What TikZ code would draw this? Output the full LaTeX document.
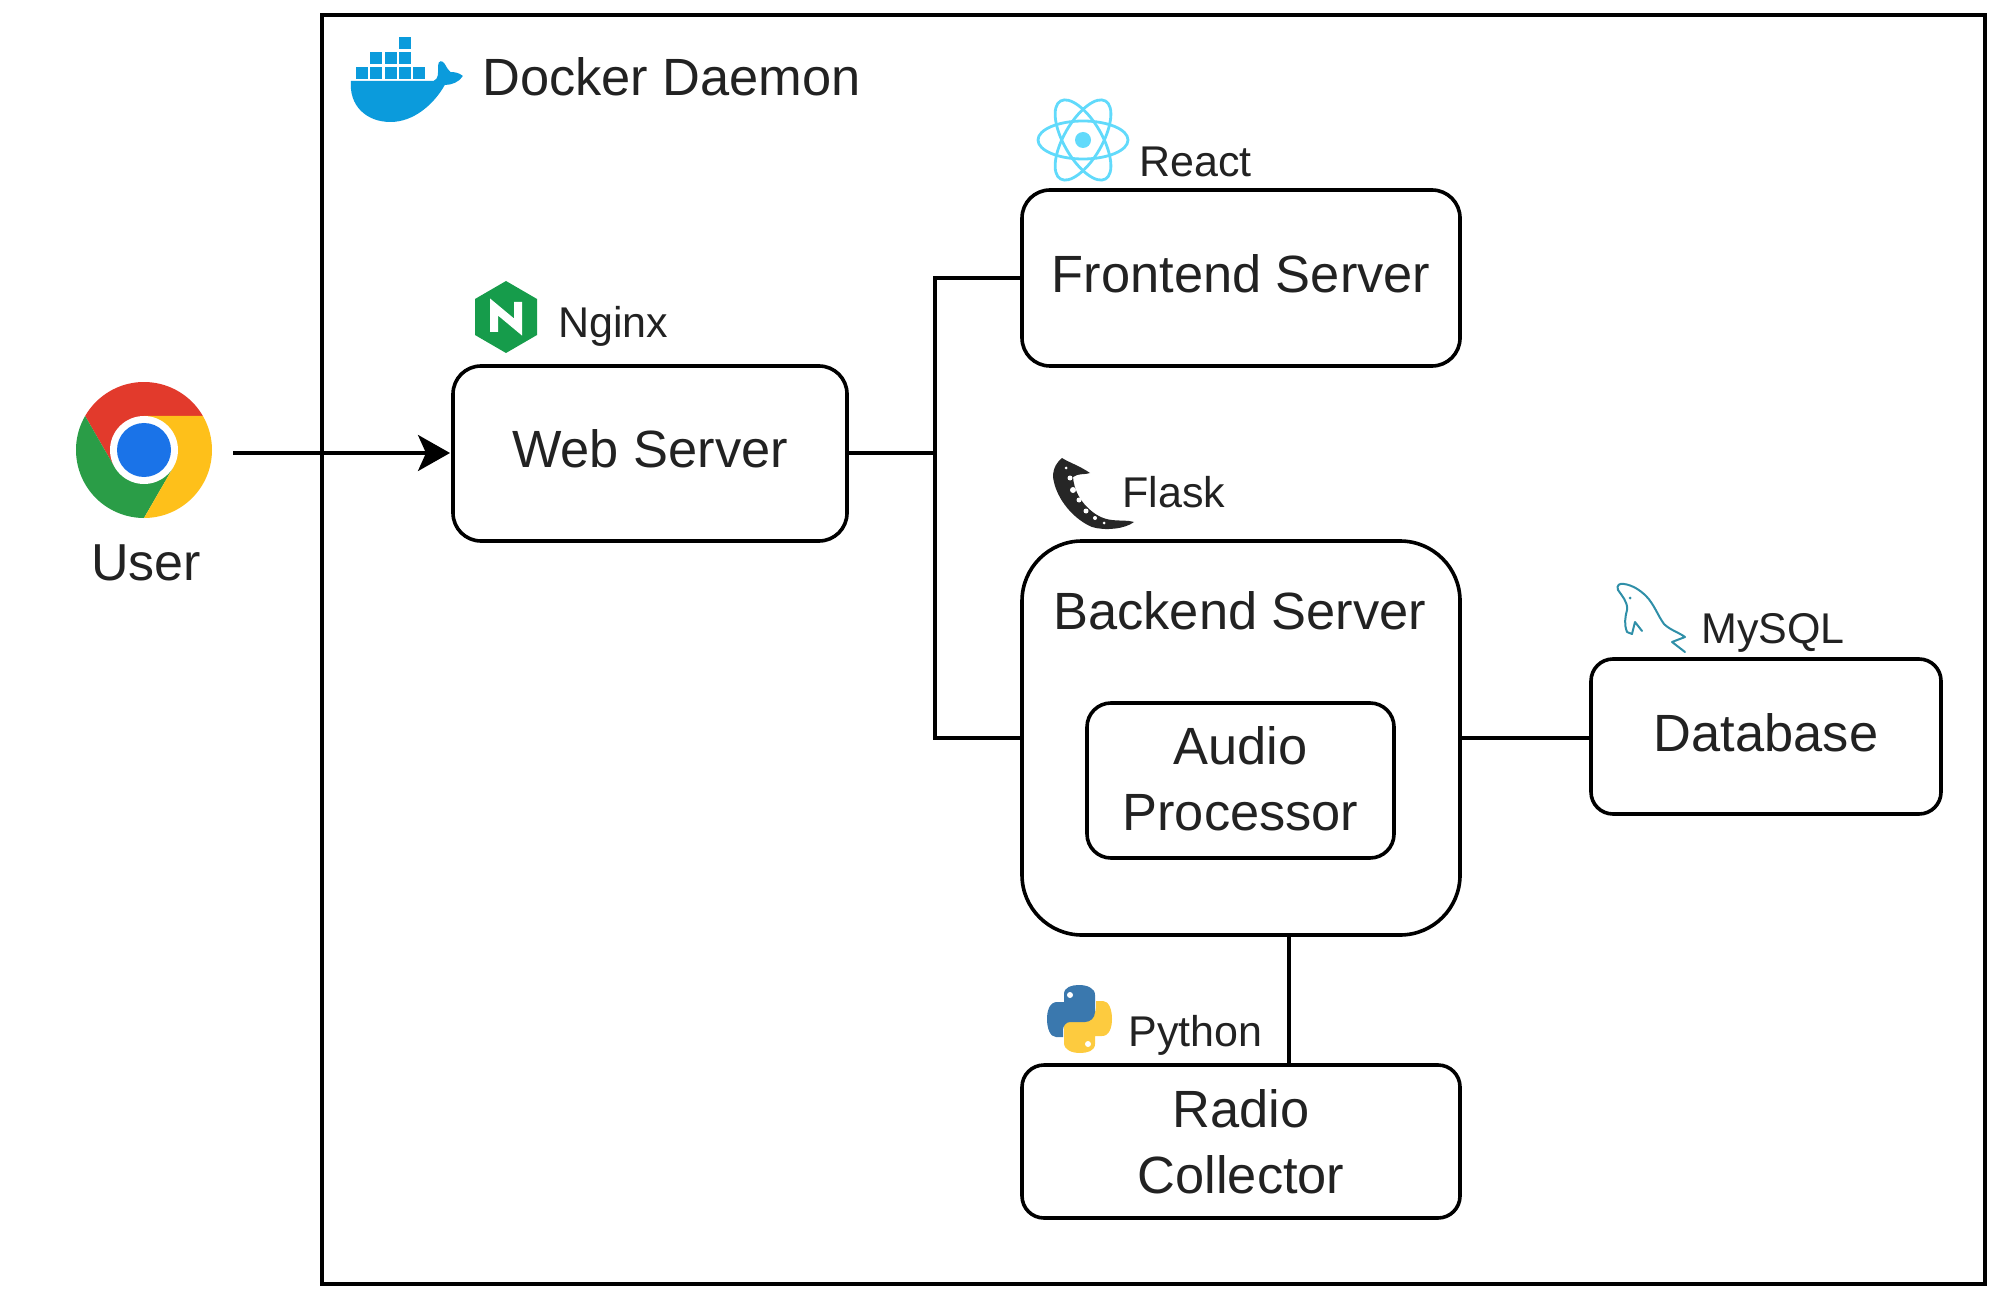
\documentclass[tikz,border=0pt]{standalone}
\usepackage{fontspec}
\setmainfont{Liberation Sans}
\usetikzlibrary{arrows.meta}
\definecolor{ink}{HTML}{222222}
\definecolor{dockerblue}{HTML}{0B9BDC}
\definecolor{reactblue}{HTML}{61DAFB}
\definecolor{nginxgreen}{HTML}{169C4B}
\definecolor{sqlteal}{HTML}{2F8FA8}
\definecolor{pyblue}{HTML}{3A78AE}
\definecolor{pyyellow}{HTML}{FDCB3F}
\definecolor{chromered}{HTML}{E23A2C}
\definecolor{chromegreen}{HTML}{2A9D47}
\definecolor{chromeyellow}{HTML}{FEC01A}
\definecolor{chromeblue}{HTML}{1A73E8}
\tikzset{
  x=0.5pt,y=-0.5pt,
  box/.style={draw=black,line width=1.8pt,rounded corners=14pt,inner sep=0pt,outer sep=0pt,align=center,
    text=ink,font=\fontsize{26.2}{33}\selectfont},
  wire/.style={draw=black,line width=1.8pt},
  biglabel/.style={anchor=base west,inner sep=0pt,text=ink,font=\fontsize{26.2}{33}\selectfont},
  smalllabel/.style={anchor=base west,inner sep=0pt,text=ink,font=\fontsize{21.5}{26}\selectfont},
}
\begin{document}
\begin{tikzpicture}
\useasboundingbox (0,0) rectangle (2000,1304);
% containers
\node[draw=black,line width=1.8pt,minimum width=831.5pt,minimum height=634.5pt,inner sep=0pt,outer sep=0pt] (daemon) at (1153.5,649.5) {};
\node[box,text depth=4.5pt,minimum width=197pt,minimum height=87.5pt] (web) at (650,453.5) {Web Server};
\node[box,text depth=4pt,minimum width=219pt,minimum height=88pt] (front) at (1241,278) {Frontend Server};
\node[box,rounded corners=30pt,minimum width=219pt,minimum height=197pt] (back) at (1241,738) {};
\node[box,text depth=2pt,rounded corners=12pt,minimum width=153.5pt,minimum height=77.5pt] (audio) at (1240.5,780.5) {Audio\\Processor};
\node[box,text depth=4pt,rounded corners=11pt,minimum width=175pt,minimum height=77.5pt] (db) at (1766,736.5) {Database};
\node[box,rounded corners=11pt,minimum width=219pt,minimum height=76.5pt] (radio) at (1241,1141.5) {Radio\\Collector};
\node[biglabel] (backlabel) at (1053,629) {Backend Server};
% labels
\node[biglabel] (dockerlabel) at (482,96) {Docker Daemon};
\node[smalllabel] (reactlabel) at (1139,176.5) {React};
\node[smalllabel] (nginxlabel) at (558,338) {Nginx};
\node[smalllabel] (flasklabel) at (1122,507) {Flask};
\node[smalllabel] (sqllabel) at (1701,643) {MySQL};
\node[smalllabel] (pylabel) at (1128,1046) {Python};
\node[anchor=base,inner sep=0pt,text=ink,font=\fontsize{26}{30}\selectfont] (userlabel) at (146,580) {User};
% connectors
\coordinate (userout) at (233,453);
\coordinate (junction) at (935,453);
\coordinate (radiotop) at (1289,935);
\draw[wire,-{Stealth[length=16pt,width=18pt,inset=4pt]},shorten >=1.5pt] (userout) -- (userout -| web.west);
\draw[wire] (web.east |- junction) -- (junction);
\draw[wire] (front.west) -| (junction);
\draw[wire] (back.west) -| (junction);
\draw[wire] (back.east) -- (back.east -| db.west);
\draw[wire] (radiotop) -- (radiotop |- radio.north);
% Chrome icon
\begin{scope}[shift={(144,450)},x=1pt,y=1pt]
  \def\Ro{34pt}\def\Ri{17pt}
  \fill[chromered] (30:\Ro) arc[start angle=30,end angle=150,radius=\Ro] -- (210:\Ri) -- (0,0) -- (90:\Ri) -- cycle;
  \fill[chromegreen] (150:\Ro) arc[start angle=150,end angle=270,radius=\Ro] -- (330:\Ri) -- (0,0) -- (210:\Ri) -- cycle;
  \fill[chromeyellow] (270:\Ro) arc[start angle=270,end angle=390,radius=\Ro] -- (90:\Ri) -- (0,0) -- (330:\Ri) -- cycle;
  \fill[white] (0,0) circle[radius=17pt];
  \fill[chromeblue] (0,0) circle[radius=13.5pt];
\end{scope}
% Docker icon
\foreach \cx/\cy in {405/43,376/58,391/58,405/58,362/73,376/73,391/73,405/73,419/73}
  \fill[dockerblue] (\cx-5.8,\cy-6) rectangle (\cx+5.8,\cy+6);
\begin{scope}[shift={(351,0)},xscale=1.13]
\fill[dockerblue] (0,81) -- (73,81) .. controls (78,79) and (77,72) .. (77,66)
  .. controls (77,60) and (81,60) .. (83,64) .. controls (85,68) and (86,70) .. (88,72)
  .. controls (92,72) and (96,73) .. (99,76) .. controls (96,82) and (89,85) .. (83,85)
  .. controls (73,105) and (55,122) .. (35,122) .. controls (13,122) and (-2,105) .. (0,81) -- cycle;
\end{scope}
% React icon
\begin{scope}[shift={(1083,140)}]
  \foreach \a in {0,60,120}
    \draw[reactblue,line width=1.4pt,rotate=\a] (0,0) ellipse[x radius=45,y radius=19];
  \fill[reactblue] (0,0) circle[radius=8];
\end{scope}
% Nginx icon
\begin{scope}[shift={(506,317)}]
  \fill[nginxgreen] (0,-36) -- (31,-18) -- (31,18) -- (0,36) -- (-31,18) -- (-31,-18) -- cycle;
  \draw[white,line width=4pt,line join=miter] (-12,15) -- (-12,-10) -- (12,10) -- (12,-15);
\end{scope}
% Flask icon
\fill[black!85] (1062,458) .. controls (1068,462) and (1080,466) .. (1090,473)
  .. controls (1085,475) and (1078,473) .. (1073,477)
  .. controls (1074,490) and (1080,500) .. (1087,507)
  .. controls (1094,514) and (1102,519) .. (1112,520)
  .. controls (1120,521) and (1128,520) .. (1134,522)
  .. controls (1125,529) and (1105,531) .. (1092,527)
  .. controls (1075,520) and (1056,500) .. (1053,477)
  .. controls (1053,468) and (1057,462) .. (1062,458) -- cycle;
\fill[white] (1070,478) circle[radius=2.5] (1073,490) circle[radius=3] (1079,500) circle[radius=2.5] (1086,511) circle[radius=2.5] (1095,518) circle[radius=2] (1066,468) circle[radius=1.5] (1104,523) circle[radius=1.5];
% MySQL icon
\draw[sqlteal,line width=1pt,line join=round,line cap=round]
  (1618,590) .. controls (1616,585) and (1620,583) .. (1624,584)
  .. controls (1632,585) and (1640,590) .. (1646,596)
  .. controls (1654,604) and (1658,616) .. (1664,624)
  .. controls (1670,630) and (1678,632) .. (1685,637)
  -- (1672,642) -- (1685,652);
\draw[sqlteal,line width=1pt,line join=round,line cap=round]
  (1618,590) .. controls (1622,596) and (1628,602) .. (1627,610)
  .. controls (1625,618) and (1624,624) .. (1627,632)
  -- (1632,634) -- (1635,622) -- (1642,631);
\fill[sqlteal] (1630,598) circle[radius=1.5];
% Python icon
\def\pysnake{(1064,1002) -- (1064,994) .. controls (1064,987) and (1072,985) .. (1079,985)
  .. controls (1087,985) and (1095,988) .. (1095,995) -- (1095,1012)
  .. controls (1095,1018) and (1090,1022) .. (1085,1022) -- (1070,1022)
  .. controls (1066,1022) and (1063,1026) .. (1063,1030) -- (1063,1037) -- (1056,1037)
  .. controls (1050,1037) and (1047,1028) .. (1047,1019)
  .. controls (1047,1010) and (1050,1002) .. (1057,1002) -- cycle}
\fill[pyyellow,rotate around={180:(1079.5,1019)}] \pysnake;
\fill[pyblue] \pysnake;
\fill[pyblue] (1064,999) rectangle (1080,1002);
\fill[white] (1070,995) circle[radius=3] (1088,1044) circle[radius=3];
\end{tikzpicture}
\end{document}
